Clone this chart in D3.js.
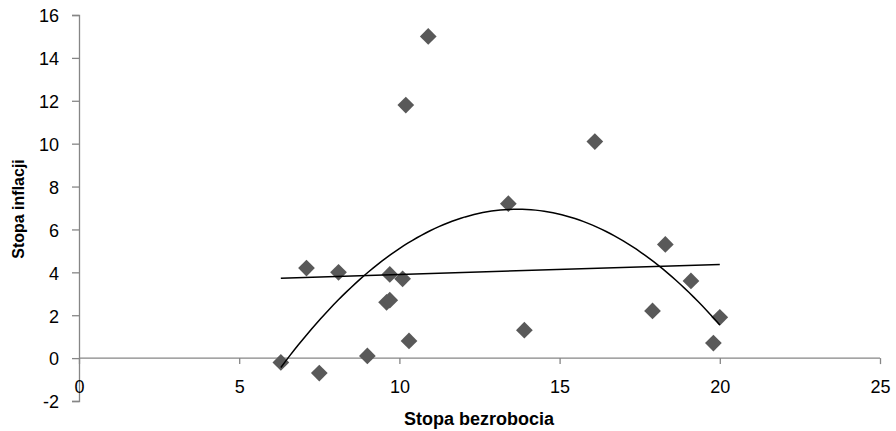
<!DOCTYPE html>
<html>
<head>
<meta charset="utf-8">
<script src="https://cdnjs.cloudflare.com/ajax/libs/d3/7.8.5/d3.min.js"></script>
<style>
  body { margin: 0; background: #fff; }
</style>
</head>
<body>
<script>
// unemployment rate (x) vs inflation rate (y)
const unemployment = [6.3, 7.1, 7.5, 8.1, 9.0, 9.6, 9.7, 9.7, 10.1, 10.3, 10.2, 10.9, 13.4, 13.9, 16.1, 17.9, 18.3, 19.1, 19.8, 20.0];
const inflation    = [-0.2, 4.2, -0.7, 4.0, 0.1, 2.6, 2.7, 3.9, 3.7, 0.8, 11.8, 15.0, 7.2, 1.3, 10.1, 2.2, 5.3, 3.6, 0.7, 1.9];
const xTicks = [0, 5, 10, 15, 20, 25];
const yTicks = [-2, 0, 2, 4, 6, 8, 10, 12, 14, 16];

const width = 896;
const height = 431;
const margin = { top: 15, right: 16, bottom: 30, left: 79 };

const points = unemployment.map((x, i) => ({ x, y: inflation[i] }));

const x = d3.scaleLinear().domain([0, 25]).range([margin.left, width - margin.right]);
const y = d3.scaleLinear().domain([-2, 16]).range([height - margin.bottom, margin.top]);

// least squares polynomial fit, degree n
function polyFit(xs, ys, n) {
  const m = n + 1;
  const A = Array.from({ length: m }, () => new Array(m + 1).fill(0));
  xs.forEach((xi, k) => {
    for (let r = 0; r < m; r++) {
      for (let c = 0; c < m; c++) A[r][c] += Math.pow(xi, r + c);
      A[r][m] += ys[k] * Math.pow(xi, r);
    }
  });
  for (let i = 0; i < m; i++) {
    let p = i;
    for (let r = i + 1; r < m; r++) if (Math.abs(A[r][i]) > Math.abs(A[p][i])) p = r;
    [A[i], A[p]] = [A[p], A[i]];
    for (let r = 0; r < m; r++) {
      if (r === i) continue;
      const f = A[r][i] / A[i][i];
      for (let c = i; c <= m; c++) A[r][c] -= f * A[i][c];
    }
  }
  const coef = A.map((row, i) => row[m] / row[i]);
  return v => coef.reduce((s, c, i) => s + c * Math.pow(v, i), 0);
}

const lin = polyFit(unemployment, inflation, 1);
const quad = polyFit(unemployment, inflation, 2);
const [xMin, xMax] = d3.extent(unemployment);
const samples = d3.range(0, 101).map(i => xMin + (xMax - xMin) * i / 100);

const svg = d3.select("body").append("svg")
  .attr("width", width)
  .attr("height", height)
  .style("font-family", "'Liberation Sans', Arial, sans-serif");

const axisColor = "#868686";
const fmt = d => String(d); // plain hyphen for negatives

// y axis
const yAxis = svg.append("g")
  .attr("transform", `translate(${margin.left},0)`)
  .call(d3.axisLeft(y).tickValues(yTicks).tickSize(7).tickPadding(13).tickFormat(fmt));
// x axis at y = 0
const xAxis = svg.append("g")
  .attr("transform", `translate(0,${y(0)})`)
  .call(d3.axisBottom(x).tickValues(xTicks).tickSize(6).tickPadding(16).tickFormat(fmt));

[xAxis, yAxis].forEach(g => {
  g.select(".domain").attr("stroke", axisColor).attr("stroke-width", 1.3);
  g.selectAll(".tick line").attr("stroke", axisColor).attr("stroke-width", 1.3);
  g.selectAll(".tick text").attr("fill", "#000").style("font-size", "18px");
});
xAxis.select(".domain").attr("d", `M${x(0)},0H${x(25)}`);
yAxis.selectAll(".tick text").attr("dy", "0.38em");

// markers
svg.append("g")
  .selectAll("path")
  .data(points)
  .join("path")
  .attr("d", d3.symbol(d3.symbolSquare, 140))
  .attr("transform", d => `translate(${x(d.x)},${y(d.y)}) rotate(45)`)
  .attr("fill", "#595959");

// trend lines
const line = f => d3.line().x(v => x(v)).y(v => y(f(v)));
svg.append("path")
  .attr("d", line(lin)([xMin, xMax]))
  .attr("fill", "none").attr("stroke", "#000").attr("stroke-width", 1.5);
svg.append("path")
  .attr("d", line(quad)(samples))
  .attr("fill", "none").attr("stroke", "#000").attr("stroke-width", 1.5);

// axis titles
svg.append("text")
  .attr("x", 479).attr("y", 425)
  .attr("text-anchor", "middle")
  .style("font-size", "18px").style("font-weight", "bold")
  .text("Stopa bezrobocia");
svg.append("text")
  .attr("transform", "translate(24,209) rotate(-90)")
  .attr("text-anchor", "middle")
  .style("font-size", "16px").style("font-weight", "bold")
  .text("Stopa inflacji");
</script>
</body>
</html>
